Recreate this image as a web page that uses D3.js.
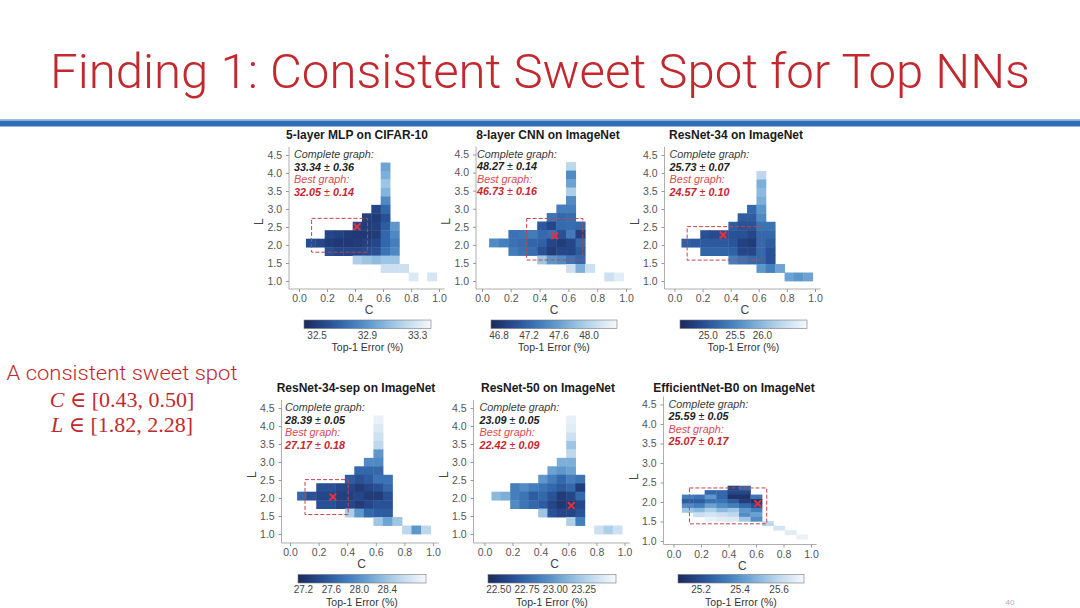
<!DOCTYPE html>
<html>
<head>
<meta charset="utf-8">
<script src="https://cdn.jsdelivr.net/npm/d3@7"></script>
<style>
  body { margin: 0; background: #fff; }
  svg { display: block; }
</style>
</head>
<body>
<svg id="slide" width="1080" height="608"></svg>
<script>
const _ = null;

const slideTitle = "Finding 1: Consistent Sweet Spot for Top NNs";
const sideNote = "A consistent sweet spot";
const sweetC = ["C", " ∈ [0.43, 0.50]"];
const sweetL = ["L", " ∈ [1.82, 2.28]"];
const pageNumber = "40";

const panelTitles = ["5-layer MLP on CIFAR-10", "8-layer CNN on ImageNet", "ResNet-34 on ImageNet",
                     "ResNet-34-sep on ImageNet", "ResNet-50 on ImageNet", "EfficientNet-B0 on ImageNet"];
const completeGraph = [["33.34", "0.36"], ["48.27", "0.14"], ["25.73", "0.07"], ["28.39", "0.05"], ["23.09", "0.05"], ["25.59", "0.05"]];
const bestGraph = [["32.05", "0.14"], ["46.73", "0.16"], ["24.57", "0.10"], ["27.17", "0.18"], ["22.42", "0.09"], ["25.07", "0.17"]];

const xTicks = [0.0, 0.2, 0.4, 0.6, 0.8, 1.0];
const yTicks = [1.0, 1.5, 2.0, 2.5, 3.0, 3.5, 4.0, 4.5];

// colorbar extent and ticks (Top-1 error, %)
const errorRanges = [[32.40, 33.41], [46.70, 48.38], [24.49, 26.83], [27.13, 28.96], [22.41, 23.54], [25.085, 25.73]];
const errorTicks = [[32.5, 32.9, 33.3], [46.8, 47.2, 47.6, 48.0], [25.0, 25.5, 26.0],
                    [27.2, 27.6, 28.0, 28.4], [22.50, 22.75, 23.00, 23.25], [25.2, 25.4, 25.6]];
const errorFormats = [".1f", ".1f", ".1f", ".1f", ".2f", ".1f"];

// best graph position [C, L] and dashed region [C0, C1, L0, L1]
const bestPoints = [[0.414, 2.51], [0.505, 2.25], [0.346, 2.28], [0.30, 2.03], [0.62, 1.79], [0.613, 1.96]];
const sweetBoxes = [[0.09, 0.49, 1.80, 2.74], [0.31, 0.70, 1.58, 2.73], [0.09, 0.62, 1.58, 2.51],
                    [0.105, 0.407, 1.54, 2.51], null, [0.116, 0.678, 1.44, 2.36]];

// bin centres for the first five heatmaps (L from top to bottom)
const cBins = [0.083, 0.150, 0.217, 0.283, 0.350, 0.417, 0.483, 0.550, 0.617, 0.683, 0.750, 0.817, 0.883, 0.950];
const lBins = [4.173, 3.938, 3.703, 3.468, 3.233, 2.998, 2.763, 2.528, 2.293, 2.058, 1.823, 1.588, 1.353, 1.118];
// EfficientNet uses a finer grid
const effCBins = [0.102, 0.185, 0.268, 0.352, 0.435, 0.518, 0.602, 0.685, 0.768, 0.852, 0.935];
const effLBins = [2.361, 2.247, 2.133, 2.019, 1.905, 1.791, 1.677, 1.563, 1.449, 1.335, 1.221, 1.107];

const mlpErr = [
  [_, _, _, _, _, _, _, _, 32.96, _, _, _, _, _],
  [_, _, _, _, _, _, _, _, 33.01, _, _, _, _, _],
  [_, _, _, _, _, _, _, _, 33.11, _, _, _, _, _],
  [_, _, _, _, _, _, _, _, 33.03, _, _, _, _, _],
  [_, _, _, _, _, _, _, _, 32.85, _, _, _, _, _],
  [_, _, _, _, _, _, _, 32.55, 32.70, _, _, _, _, _],
  [_, _, _, _, _, _, 32.52, 32.50, 32.60, _, _, _, _, _],
  [_, _, _, _, _, 32.55, 32.50, 32.52, 32.65, 32.91, _, _, _, _],
  [_, _, 32.55, 32.52, 32.50, 32.48, 32.48, 32.50, 32.70, 32.85, _, _, _, _],
  [32.58, 32.55, 32.50, 32.48, 32.48, 32.50, 32.52, 32.55, 32.70, 32.80, _, _, _, _],
  [_, _, 32.60, 32.55, 32.55, 32.55, 32.58, 32.60, 32.75, 32.85, _, _, _, _],
  [_, _, _, _, _, 33.16, 33.11, 33.06, 33.11, 33.11, _, _, _, _],
  [_, _, _, _, _, _, _, _, 33.26, 33.26, 33.26, _, _, _],
  [_, _, _, _, _, _, _, _, _, _, _, 33.31, _, 33.29]
];
const cnnErr = [
  [_, _, _, _, _, _, _, _, 48.04, _, _, _, _, _],
  [_, _, _, _, _, _, _, _, 47.46, _, _, _, _, _],
  [_, _, _, _, _, _, _, _, 47.62, _, _, _, _, _],
  [_, _, _, _, _, _, _, _, 47.96, _, _, _, _, _],
  [_, _, _, _, _, _, _, _, 47.46, _, _, _, _, _],
  [_, _, _, _, _, _, _, 47.37, 47.37, _, _, _, _, _],
  [_, _, _, _, _, _, 47.29, 47.20, 47.24, _, _, _, _, _],
  [_, _, _, _, _, 47.10, 46.95, 47.22, 47.24, 47.20, _, _, _, _],
  [_, _, 47.28, 47.30, 47.35, 47.22, 47.26, 47.04, 47.34, 46.90, _, _, _, _],
  [47.46, 47.37, 47.28, 47.25, 47.18, 47.15, 46.95, 46.87, 46.95, 47.20, _, _, _, _],
  [_, _, 47.35, 47.28, 47.25, 47.04, 46.87, 46.95, 46.95, 47.12, _, _, _, _],
  [_, _, _, _, _, 47.88, 47.54, 47.46, 47.29, 47.20, _, _, _, _],
  [_, _, _, _, _, _, _, _, 48.13, 47.71, 48.13, _, _, _],
  [_, _, _, _, _, _, _, _, _, _, _, _, 48.13, 48.25]
];
const r34Err = [
  [_, _, _, _, _, _, _, _, _, _, _, _, _, _],
  [_, _, _, _, _, _, _, _, 26.36, _, _, _, _, _],
  [_, _, _, _, _, _, _, _, 25.89, _, _, _, _, _],
  [_, _, _, _, _, _, _, _, 26.01, _, _, _, _, _],
  [_, _, _, _, _, _, _, _, 25.89, _, _, _, _, _],
  [_, _, _, _, _, _, _, 25.19, 25.66, _, _, _, _, _],
  [_, _, _, _, _, _, 25.08, 25.08, 25.54, _, _, _, _, _],
  [_, _, _, _, _, 25.08, 24.96, 24.96, 25.31, 25.31, _, _, _, _],
  [_, _, 24.95, 24.90, 24.95, 24.96, 24.96, 24.84, 25.19, 25.19, _, _, _, _],
  [25.12, 25.05, 25.05, 25.05, 25.05, 25.00, 24.77, 24.72, 25.19, 25.08, _, _, _, _],
  [_, _, 25.15, 25.15, 25.15, 25.12, 24.84, 24.84, 25.19, 24.96, _, _, _, _],
  [_, _, _, _, _, 25.43, 25.31, 25.19, 25.19, 24.96, _, _, _, _],
  [_, _, _, _, _, _, _, _, 25.66, 25.43, 25.78, _, _, _],
  [_, _, _, _, _, _, _, _, _, _, _, 25.78, 25.66, 25.78]
];
const r34sepErr = [
  [_, _, _, _, _, _, _, _, 28.87, _, _, _, _, _],
  [_, _, _, _, _, _, _, _, 28.78, _, _, _, _, _],
  [_, _, _, _, _, _, _, _, 28.69, _, _, _, _, _],
  [_, _, _, _, _, _, _, _, 28.59, _, _, _, _, _],
  [_, _, _, _, _, _, _, _, 28.05, _, _, _, _, _],
  [_, _, _, _, _, _, _, 27.95, 27.95, _, _, _, _, _],
  [_, _, _, _, _, _, 27.68, 27.68, 27.68, _, _, _, _, _],
  [_, _, _, _, _, 27.59, 27.50, 27.59, 27.77, 27.77, _, _, _, _],
  [_, _, 27.50, 27.50, 27.40, 27.40, 27.31, 27.40, 27.50, 27.68, _, _, _, _],
  [27.68, 27.50, 27.40, 27.40, 27.35, 27.35, 27.40, 27.31, 27.31, 27.50, _, _, _, _],
  [_, _, 27.50, 27.50, 27.40, 27.40, 27.31, 27.40, 27.50, 27.50, _, _, _, _],
  [_, _, _, _, _, 28.50, 28.05, 27.68, 27.59, 27.59, _, _, _, _],
  [_, _, _, _, _, _, _, _, 28.41, 28.14, 28.41, _, _, _],
  [_, _, _, _, _, _, _, _, _, _, _, 28.59, 28.05, 28.59]
];
const r50Err = [
  [_, _, _, _, _, _, _, _, 23.48, _, _, _, _, _],
  [_, _, _, _, _, _, _, _, 23.45, _, _, _, _, _],
  [_, _, _, _, _, _, _, _, 23.37, _, _, _, _, _],
  [_, _, _, _, _, _, _, _, 23.20, _, _, _, _, _],
  [_, _, _, _, _, _, _, _, 23.31, _, _, _, _, _],
  [_, _, _, _, _, _, _, 23.09, 23.09, _, _, _, _, _],
  [_, _, _, _, _, _, 23.03, 22.98, 23.03, _, _, _, _, _],
  [_, _, _, _, _, 22.98, 22.86, 22.75, 22.86, 22.81, _, _, _, _],
  [_, _, 22.86, 22.92, 22.86, 22.81, 22.75, 22.69, 22.75, 22.52, _, _, _, _],
  [23.14, 23.09, 22.86, 22.81, 22.69, 22.75, 22.64, 22.52, 22.58, 22.75, _, _, _, _],
  [_, _, 22.92, 22.81, 22.75, 22.69, 22.58, 22.50, 22.52, 22.58, _, _, _, _],
  [_, _, _, _, _, 23.20, 22.64, 22.58, 22.58, 22.64, _, _, _, _],
  [_, _, _, _, _, _, _, _, 23.26, 22.86, _, _, _, _],
  [_, _, _, _, _, _, _, _, _, _, _, 23.37, 23.26, 23.37]
];
const effErr = [
  [_, _, _, _, 25.18, 25.28, _, _, _, _, _],
  [_, _, 25.28, 25.28, 25.18, 25.18, _, _, _, _, _],
  [25.34, 25.31, 25.41, 25.28, 25.12, 25.12, 25.31, _, _, _, _],
  [25.25, 25.25, 25.31, 25.31, 25.25, 25.15, 25.12, _, _, _, _],
  [25.38, 25.34, 25.44, 25.38, 25.34, 25.28, 25.21, _, _, _, _],
  [25.54, 25.50, 25.57, 25.50, 25.54, 25.41, 25.34, _, _, _, _],
  [_, 25.63, 25.65, 25.63, 25.60, 25.38, 25.44, _, _, _, _],
  [_, _, 25.70, 25.68, 25.67, 25.54, 25.38, _, _, _, _],
  [_, _, _, _, _, _, _, 25.60, _, _, _],
  [_, _, _, _, _, _, _, _, 25.65, _, _],
  [_, _, _, _, _, _, _, _, _, 25.68, _],
  [_, _, _, _, _, _, _, _, _, _, 25.70]
];

const grids = [mlpErr, cnnErr, r34Err, r34sepErr, r50Err, effErr];
const gridCBins = [cBins, cBins, cBins, cBins, cBins, effCBins];
const gridLBins = [lBins, lBins, lBins, lBins, lBins, effLBins];

// pixel placement of each small chart on the slide
const layout = [
  {x0: 299, x1: 439, yTop: 155, yBot: 281, axisX: 289, axisY: 289, titleX: 357, titleY: 139, cb: [304, 431], cbY: 320},
  {x0: 482, x1: 626, yTop: 154.5, yBot: 281, axisX: 476, axisY: 289, titleX: 548, titleY: 139, cb: [491, 617], cbY: 320},
  {x0: 674.5, x1: 815, yTop: 155, yBot: 281, axisX: 664.5, axisY: 289, titleX: 736, titleY: 139, cb: [680, 807], cbY: 320},
  {x0: 290, x1: 433, yTop: 408, yBot: 534, axisX: 281.5, axisY: 543, titleX: 356, titleY: 392, cb: [298, 426], cbY: 574.5},
  {x0: 484.5, x1: 624.5, yTop: 408, yBot: 534, axisX: 473.5, axisY: 543, titleX: 548, titleY: 392, cb: [488, 616], cbY: 574.5},
  {x0: 673.5, x1: 811, yTop: 404.5, yBot: 541, axisX: 663.5, axisY: 544.5, titleX: 734, titleY: 392, cb: [678, 804], cbY: 574.5}
];

const errorInterp = d3.interpolateRgbBasis(["#1b2a5c", "#26488f", "#3570b4", "#5a95cb", "#93c0e1", "#cadef0", "#f5f8fc"]);
const sans = "'Liberation Sans', Arial, Helvetica, sans-serif";
const svg = d3.select("#slide");
const defs = svg.append("defs");

// slide header
svg.append("text")
    .attr("x", 50)
    .attr("y", 88)
    .attr("textLength", 980)
    .attr("lengthAdjust", "spacingAndGlyphs")
    .style("font-family", "Roboto, 'Liberation Sans', sans-serif")
    .style("font-weight", 300)
    .style("font-size", "49px")
    .attr("fill", "#c2292f")
    .text(slideTitle);
svg.append("rect").attr("x", 0).attr("y", 119).attr("width", 1080).attr("height", 1.2).attr("fill", "#9dbde0");
svg.append("rect").attr("x", 0).attr("y", 120.5).attr("width", 1080).attr("height", 6).attr("fill", "#2f6db4");

// side note
svg.append("text")
    .attr("x", 122).attr("y", 380)
    .attr("text-anchor", "middle")
    .attr("textLength", 231)
    .attr("lengthAdjust", "spacingAndGlyphs")
    .style("font-family", "Roboto, 'Liberation Sans', sans-serif")
    .style("font-weight", 300)
    .style("font-size", "21px")
    .attr("fill", "#c2292f")
    .text(sideNote);
[[sweetC, 407], [sweetL, 432]].forEach(([parts, yy]) => {
    const t = svg.append("text")
        .attr("x", 122).attr("y", yy)
        .attr("text-anchor", "middle")
        .style("font-family", "'Liberation Serif', 'DejaVu Serif', serif")
        .style("font-size", "22px")
        .attr("fill", "#c2292f");
    t.append("tspan").style("font-style", "italic").text(parts[0]);
    t.append("tspan").text(parts[1]);
});

svg.append("text")
    .attr("x", 1010).attr("y", 605)
    .attr("text-anchor", "middle")
    .style("font-family", sans)
    .style("font-size", "8px")
    .attr("fill", "#b0b0b0")
    .text(pageNumber);

function drawPanel(i) {
    const p = layout[i];
    const g = svg.append("g");
    const x = d3.scaleLinear().domain([0, 1]).range([p.x0, p.x1]);
    const y = d3.scaleLinear().domain([1, 4.5]).range([p.yBot, p.yTop]);
    const color = d3.scaleSequential(errorInterp).domain(errorRanges[i]);
    const cb = gridCBins[i], lb = gridLBins[i];
    const cw = x(cb[1]) - x(cb[0]);
    const lh = y(lb[1]) - y(lb[0]);

    const cells = [];
    grids[i].forEach((row, r) => row.forEach((v, k) => {
        if (v !== null) cells.push({c: cb[k], l: lb[r], v: v});
    }));

    g.selectAll("rect.cell")
        .data(cells)
        .join("rect")
        .attr("class", "cell")
        .attr("x", d => x(d.c) - cw / 2)
        .attr("y", d => y(d.l) - lh / 2)
        .attr("width", cw + 0.4)
        .attr("height", lh + 0.4)
        .attr("fill", d => color(d.v));

    // axes
    const yAxis = g.append("g")
        .attr("transform", "translate(" + p.axisX + ",0)")
        .call(d3.axisLeft(y).tickValues(yTicks).tickFormat(d3.format(".1f")).tickSize(3).tickPadding(4));
    const xAxis = g.append("g")
        .attr("transform", "translate(0," + p.axisY + ")")
        .call(d3.axisBottom(x).tickValues(xTicks).tickFormat(d3.format(".1f")).tickSize(3).tickPadding(3));
    [yAxis, xAxis].forEach(a => {
        a.select(".domain").remove();
        a.selectAll(".tick line").attr("stroke", "#999");
        a.selectAll(".tick text").attr("fill", "#555").style("font-family", sans).style("font-size", "10.5px");
    });
    g.append("line")
        .attr("x1", p.axisX).attr("x2", p.axisX)
        .attr("y1", p.yTop - 8).attr("y2", p.axisY)
        .attr("stroke", "#999").attr("stroke-width", 0.8);
    g.append("line")
        .attr("x1", p.axisX).attr("x2", x(1.04))
        .attr("y1", p.axisY).attr("y2", p.axisY)
        .attr("stroke", "#999").attr("stroke-width", 0.8);

    g.append("text")
        .attr("transform", "translate(" + (p.axisX - 26) + "," + y(2.65) + ") rotate(-90)")
        .attr("text-anchor", "middle")
        .style("font-family", sans).style("font-size", "12px")
        .attr("fill", "#444")
        .text("L");
    g.append("text")
        .attr("x", x(0.5)).attr("y", p.axisY + 25)
        .attr("text-anchor", "middle")
        .style("font-family", sans).style("font-size", "12px")
        .attr("fill", "#444")
        .text("C");

    g.append("text")
        .attr("x", p.titleX).attr("y", p.titleY)
        .attr("text-anchor", "middle")
        .style("font-family", sans).style("font-size", "12px").style("font-weight", "bold")
        .attr("fill", "#1a1a1a")
        .text(panelTitles[i]);

    // complete / best graph annotation
    const tx = x(0) - 5;
    const lines = [
        {t: "Complete graph:", y: 3, fill: "#3a3a3a"},
        {pair: completeGraph[i], y: 15.5, fill: "#222"},
        {t: "Best graph:", y: 28, fill: "#d84a52"},
        {pair: bestGraph[i], y: 40.5, fill: "#c8262f"}
    ];
    lines.forEach(ln => {
        const t = g.append("text")
            .attr("x", tx).attr("y", p.yTop + ln.y)
            .style("font-family", sans).style("font-size", "10.8px").style("font-style", "italic")
            .attr("fill", ln.fill);
        if (ln.t) {
            t.text(ln.t);
        } else {
            t.append("tspan").style("font-weight", "bold").text(ln.pair[0]);
            t.append("tspan").text(" \u00b1 ");
            t.append("tspan").style("font-weight", "bold").text(ln.pair[1]);
        }
    });

    // dashed sweet spot and best graph marker
    const box = sweetBoxes[i];
    if (box) {
        g.append("rect")
            .attr("x", x(box[0])).attr("y", y(box[3]))
            .attr("width", x(box[1]) - x(box[0]))
            .attr("height", y(box[2]) - y(box[3]))
            .attr("fill", "none")
            .attr("stroke", "#c2454c")
            .attr("stroke-width", 1)
            .style("stroke-dasharray", "4,2");
    }
    const bx = x(bestPoints[i][0]), by = y(bestPoints[i][1]), s = 2.8;
    g.append("path")
        .attr("d", "M" + (bx - s) + "," + (by - s) + "L" + (bx + s) + "," + (by + s) +
                   "M" + (bx - s) + "," + (by + s) + "L" + (bx + s) + "," + (by - s))
        .attr("stroke", "#e8303a")
        .attr("stroke-width", 2)
        .attr("stroke-linecap", "round");

    // colorbar
    const gradId = "grad" + i;
    const grad = defs.append("linearGradient").attr("id", gradId);
    const rng = errorRanges[i];
    d3.range(0, 1.0001, 0.1).forEach(t => {
        grad.append("stop")
            .attr("offset", (t * 100) + "%")
            .attr("stop-color", color(rng[0] + t * (rng[1] - rng[0])));
    });
    g.append("rect")
        .attr("x", p.cb[0]).attr("y", p.cbY)
        .attr("width", p.cb[1] - p.cb[0]).attr("height", 8.5)
        .attr("fill", "url(#" + gradId + ")")
        .attr("stroke", "#777").attr("stroke-width", 0.6);
    const cbScale = d3.scaleLinear().domain(rng).range(p.cb);
    const cbAxis = g.append("g")
        .attr("transform", "translate(0," + (p.cbY + 8.5) + ")")
        .call(d3.axisBottom(cbScale).tickValues(errorTicks[i]).tickFormat(d3.format(errorFormats[i])).tickSize(0).tickPadding(3));
    cbAxis.select(".domain").remove();
    cbAxis.selectAll(".tick text").attr("fill", "#444").style("font-family", sans).style("font-size", "10px");
    g.append("text")
        .attr("x", (p.cb[0] + p.cb[1]) / 2).attr("y", p.cbY + 31)
        .attr("text-anchor", "middle")
        .style("font-family", sans).style("font-size", "10.5px")
        .attr("fill", "#333")
        .text("Top-1 Error (%)");
}

panelTitles.forEach((t, i) => drawPanel(i));
</script>
</body>
</html>
